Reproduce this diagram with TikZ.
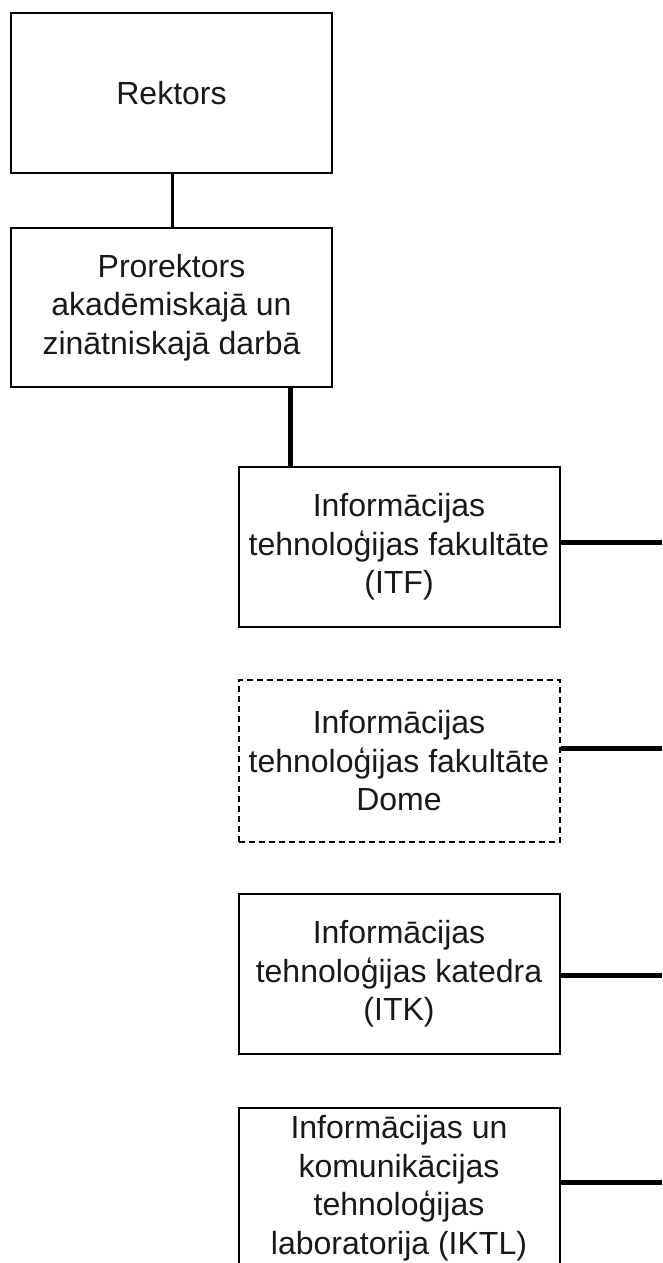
\documentclass[tikz,border=0pt]{standalone}
\usepackage{fontspec}
\setmainfont{Liberation Sans}
\begin{document}
\begin{tikzpicture}[x=1pt,y=-1pt,
  box/.style={draw=black, line width=2pt, rectangle, minimum width=321pt, minimum height=160pt,
    align=center, inner sep=0pt, font=\fontsize{32}{38.5}\selectfont, text=black!90},
  dbox/.style={box, dash pattern=on 6pt off 4pt},
  thin/.style={line width=3pt},
  thick/.style={line width=5pt}]
\useasboundingbox (0,0) rectangle (662,1263);
\clip (0,0) rectangle (662,1263);
\node[box] (rek) at (171.5,93) {Rektors};
\node[box, minimum height=159pt] (pro) at (171.5,307.5) {Prorektors\\akadēmiskajā un\\zinātniskajā darbā};
\node[box] (itf) at (399,547) {Informācijas\\tehnoloģijas fakultāte\\(ITF)};
\node[dbox, minimum height=162pt] (dome) at (399,761) {Informācijas\\tehnoloģijas fakultāte\\Dome};
\node[box] (itk) at (399,974) {Informācijas\\tehnoloģijas katedra\\(ITK)};
\node[box] (iktl) at (399,1188) {Informācijas un\\komunikācijas\\tehnoloģijas\\laboratorija (IKTL)};
\coordinate (j1) at (172,0);
\coordinate (j2) at (290,0);
\coordinate (e1) at (662,542);
\coordinate (e2) at (662,748);
\coordinate (e3) at (662,975);
\coordinate (e4) at (662,1182);
\draw[thin] (rek.south -| j1) -- (pro.north -| j1);
\draw[thick] (pro.south -| j2) -- (itf.north -| j2);
\draw[thick] (itf.east |- e1) -- (e1);
\draw[thick] (dome.east |- e2) -- (e2);
\draw[thick] (itk.east |- e3) -- (e3);
\draw[thick] (iktl.east |- e4) -- (e4);
\end{tikzpicture}
\end{document}
